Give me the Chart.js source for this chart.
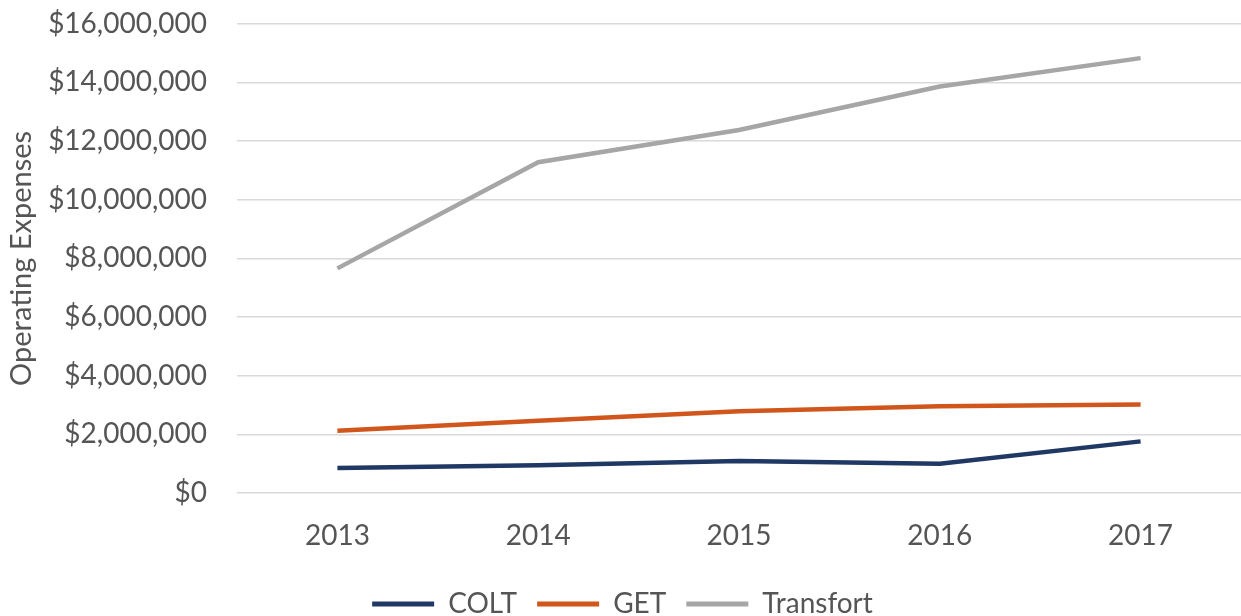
<!DOCTYPE html>
<html>
<head>
<meta charset="utf-8">
<script src="https://cdn.jsdelivr.net/npm/chart.js@4/dist/chart.umd.min.js"></script>
<style>
  html, body { margin: 0; padding: 0; background: #ffffff; overflow: hidden; }
  #wrap { width: 1241px; height: 616px; position: relative; overflow: hidden; }
  #c { position: absolute; left: 0; top: -23px; }
</style>
</head>
<body>
<div id="wrap"><canvas id="c" width="1241" height="651"></canvas></div>
<script>
const years = ["2013", "2014", "2015", "2016", "2017"];
const colt = [850000, 950000, 1090000, 1000000, 1760000];
const get = [2120000, 2460000, 2790000, 2960000, 3020000];
const transfort = [7660000, 11280000, 12380000, 13860000, 14830000];
const seriesNames = ["COLT", "GET", "Transfort"];
const seriesColors = ["#1F3864", "#D0561C", "#A6A6A6"];
const yMax = 16000000;
const yStep = 2000000;

const FONT = "Lato, 'Open Sans', sans-serif";
const TXT = "#555555";

const ctx = document.getElementById('c').getContext('2d');
new Chart(ctx, {
  type: 'line',
  data: {
    labels: years,
    datasets: [colt, get, transfort].map((d, i) => ({
      label: seriesNames[i],
      data: d,
      borderColor: seriesColors[i],
      backgroundColor: seriesColors[i],
      borderWidth: 4.5,
      pointRadius: 0,
      pointHoverRadius: 0,
      tension: 0,
      fill: false
    }))
  },
  options: {
    responsive: false,
    animation: false,
    layout: { padding: { top: 0, right: 0, left: 4, bottom: 0 } },
    plugins: {
      tooltip: { enabled: false },
      legend: {
        position: 'bottom',
        labels: {
          color: TXT,
          font: { family: FONT, size: 28 },
          boxWidth: 62,
          boxHeight: 5,
          padding: 20,
          generateLabels: (chart) => chart.data.datasets.map((ds, i) => ({
            text: ds.label,
            fillStyle: ds.borderColor,
            strokeStyle: ds.borderColor,
            lineWidth: 0,
            hidden: false,
            datasetIndex: i,
            fontColor: TXT
          }))
        }
      }
    },
    scales: {
      x: {
        offset: true,
        grid: { display: false, drawTicks: false },
        border: { display: false },
        ticks: { color: TXT, font: { family: FONT, size: 28 }, padding: 26 },
        afterFit: (s) => { s.height = 77; }
      },
      y: {
        min: 0,
        max: yMax,
        grid: { color: '#D9D9D9', lineWidth: 1.5, drawTicks: false },
        border: { display: false },
        ticks: {
          stepSize: yStep,
          color: TXT,
          font: { family: FONT, size: 28 },
          padding: 30,
          callback: (v) => '$' + Number(v).toLocaleString('en-US')
        },
        title: {
          display: true,
          text: 'Operating Expenses',
          color: TXT,
          font: { family: FONT, size: 29 },
          padding: { top: 0, bottom: 0 }
        },
        afterFit: (s) => { s.width = 233; }
      }
    }
  }
});
</script>
</body>
</html>
